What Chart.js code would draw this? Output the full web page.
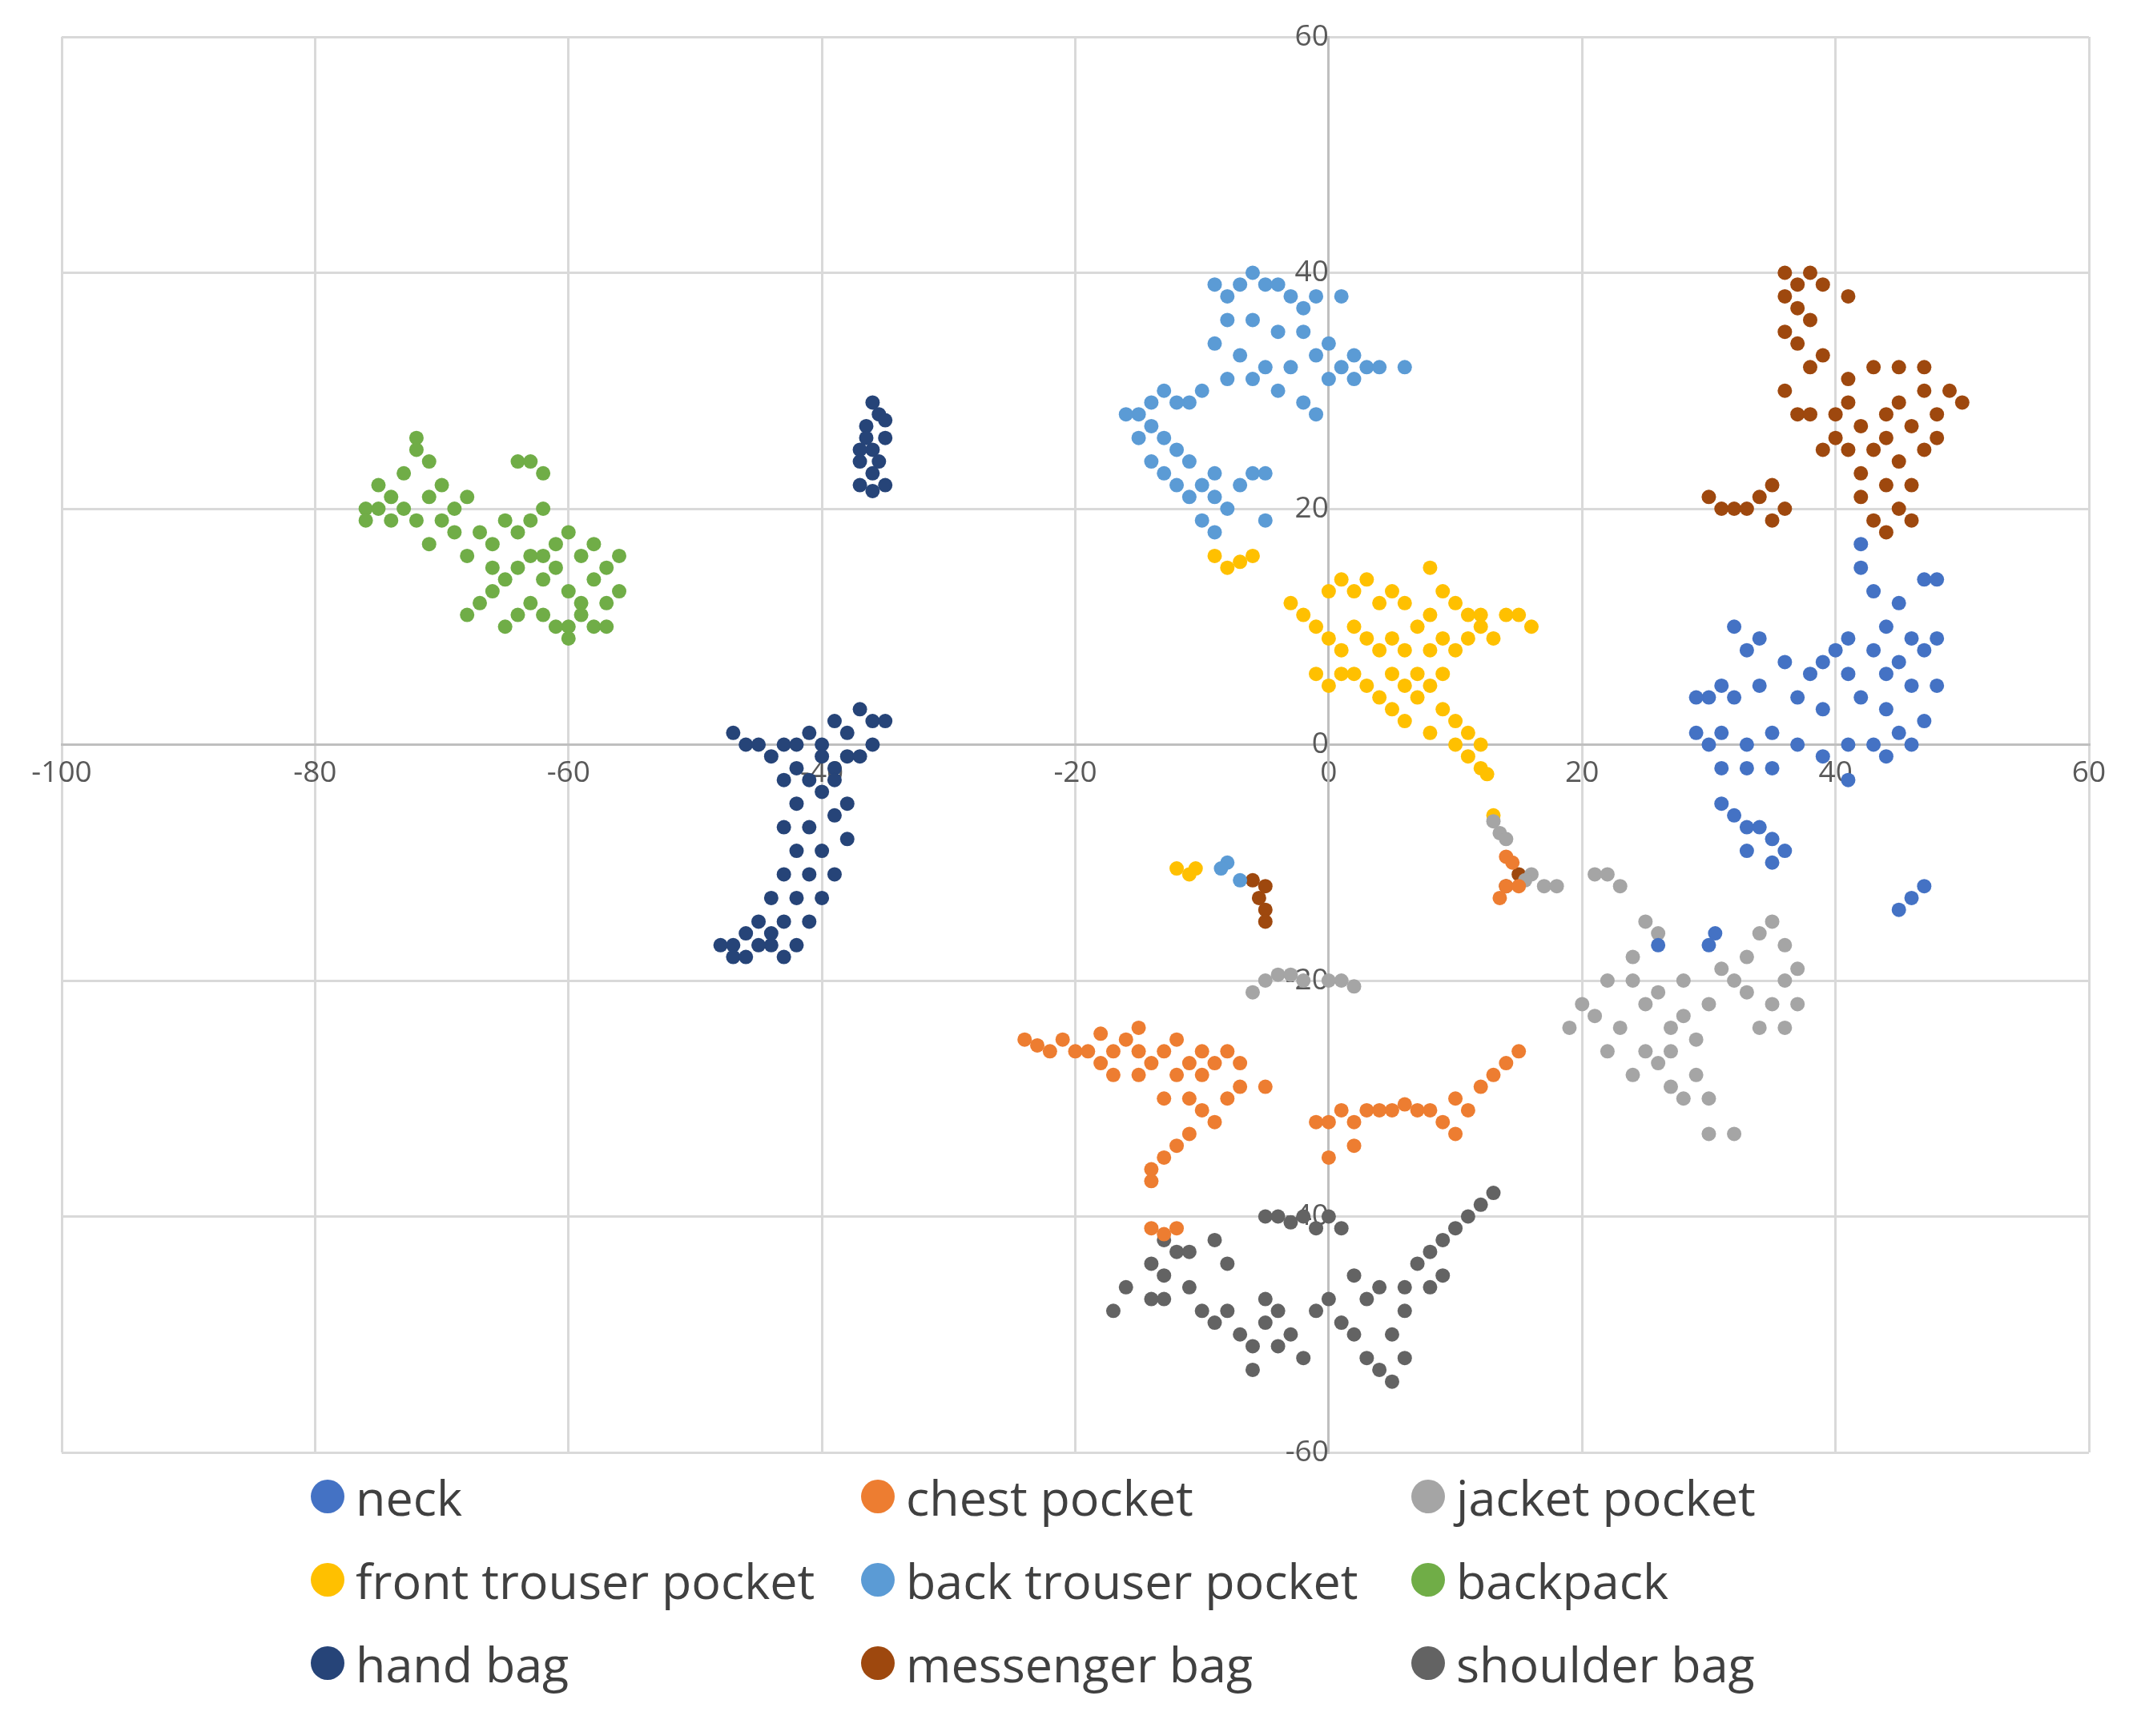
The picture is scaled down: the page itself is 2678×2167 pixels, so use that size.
<!DOCTYPE html>
<html>
<head>
<meta charset="utf-8">
<script src="https://cdn.jsdelivr.net/npm/chart.js@4"></script>
<style>
  body { margin: 0; background: #fff; font-family: "Open Sans", sans-serif; }
  #wrap { width: 2678px; height: 1860px; position: relative; }
  #legend { display: grid; grid-template-columns: 687px 687px 700px; margin-left: 388px; row-gap: 12px; margin-top: -38px; }
  .item { display: flex; align-items: center; font-size: 61px; color: #404040; white-space: nowrap; height: 92px; }
  .dot { width: 42px; height: 42px; border-radius: 50%; margin-right: 14px; }
</style>
</head>
<body>
<div id="wrap"><canvas id="tsne"></canvas></div>
<div id="legend"></div>
<script>
const names = ['neck', 'chest pocket', 'jacket pocket', 'front trouser pocket', 'back trouser pocket', 'backpack', 'hand bag', 'messenger bag', 'shoulder bag'];
const colors = ['#4472C4', '#ED7D31', '#A5A5A5', '#FFC000', '#5B9BD5', '#70AD47', '#264478', '#9E480E', '#636363'];
const xTicks = [-100, -80, -60, -40, -20, 0, 20, 40, 60];
const yTicks = [-60, -40, -20, 0, 20, 40, 60];

const neck = [[42,17],[42,15],[43,13],[45,12],[47,14],[48,14],[44,10],[46,9],[48,9],[41,9],[40,8],[43,8],[45,7],[47,8],[39,7],[41,6],[44,6],[46,5],[48,5],[38,6],[36,7],[34,9],[32,10],[33,8],[31,5],[30,4],[29,4],[32,4],[34,5],[37,4],[39,3],[42,4],[44,3],[45,1],[47,2],[29,1],[30,0],[31,1],[33,0],[35,1],[37,0],[39,-1],[41,0],[43,0],[44,-1],[46,0],[31,-2],[33,-2],[35,-2],[41,-3],[31,-5],[32,-6],[33,-7],[34,-7],[35,-8],[36,-9],[33,-9],[35,-10],[45,-14],[46,-13],[47,-12],[26,-17],[30,-17],[30.5,-16]];
const chestPocket = [[-24,-25],[-23,-25.5],[-22,-26],[-21,-25],[-20,-26],[-19,-26],[-18,-27],[-17,-26],[-16,-25],[-15,-26],[-14,-27],[-13,-26],[-12,-25],[-11,-27],[-10,-26],[-9,-27],[-8,-26],[-7,-27],[-17,-28],[-15,-28],[-12,-28],[-10,-28],[-18,-24.5],[-15,-24],[-13,-30],[-11,-30],[-10,-31],[-9,-32],[-11,-33],[-12,-34],[-13,-35],[-14,-36],[-14,-37],[-8,-30],[-7,-29],[-5,-29],[-14,-41],[-13,-41.5],[-12,-41],[-1,-32],[0,-32],[1,-31],[2,-32],[2,-34],[0,-35],[3,-31],[4,-31],[5,-31],[6,-30.5],[7,-31],[8,-31],[9,-32],[10,-30],[11,-31],[12,-29],[13,-28],[14,-27],[15,-26],[10,-33],[14,-9.5],[14.5,-10],[14,-12],[13.5,-13],[15,-12]];
const jacketPocket = [[13,-6.5],[13.5,-7.5],[14,-8],[16,-11],[17,-12],[18,-12],[15.5,-11.5],[-5,-20],[-4,-19.5],[-3,-19.5],[-2,-20],[0,-20],[1,-20],[2,-20.5],[-6,-21],[21,-11],[22,-11],[23,-12],[25,-15],[26,-16],[24,-18],[22,-20],[20,-22],[19,-24],[21,-23],[24,-20],[25,-22],[26,-21],[27,-24],[28,-20],[25,-26],[24,-28],[26,-27],[27,-29],[28,-30],[29,-28],[30,-30],[30,-33],[32,-33],[29,-25],[30,-22],[32,-20],[33,-18],[34,-16],[35,-15],[36,-17],[36,-20],[37,-22],[35,-22],[34,-24],[36,-24],[33,-21],[31,-19],[27,-26],[23,-24],[22,-26],[28,-23],[37,-19]];
const frontTrouser = [[-9,16],[-8,15],[-7,15.5],[-6,16],[-3,12],[-2,11],[-1,10],[0,13],[1,14],[2,13],[3,14],[4,12],[5,13],[6,12],[8,11],[8,15],[9,13],[10,12],[11,11],[12,11],[14,11],[15,11],[16,10],[0,9],[1,8],[2,10],[3,9],[4,8],[5,9],[6,8],[7,10],[8,8],[9,9],[10,8],[11,9],[12,10],[13,9],[-1,6],[0,5],[1,6],[2,6],[3,5],[5,6],[6,5],[7,4],[8,5],[9,3],[10,2],[11,1],[12,0],[11,-1],[12,-2],[10,0],[8,1],[6,2],[5,3],[13,-6],[12.5,-2.5],[-12,-10.5],[-11,-11],[-10.5,-10.5],[4,4],[7,6],[9,6]];
const backTrouser = [[-9,39],[-8,38],[-7,39],[-6,40],[-5,39],[-4,39],[-3,38],[-2,37],[-1,38],[1,38],[-8,36],[-6,36],[-4,35],[-2,35],[0,34],[-9,34],[-7,33],[-5,32],[-3,32],[-1,33],[1,32],[2,33],[3,32],[4,32],[6,32],[2,31],[0,31],[-2,29],[-1,28],[-4,30],[-6,31],[-8,31],[-10,30],[-11,29],[-12,29],[-13,30],[-14,29],[-15,28],[-16,28],[-14,27],[-13,26],[-15,26],[-12,25],[-13,23],[-14,24],[-12,22],[-11,21],[-10,22],[-9,21],[-10,19],[-9,18],[-8,20],[-7,22],[-6,23],[-5,23],[-5,19],[-11,24],[-9,23],[-8,-10],[-7,-11.5],[-8.5,-10.5]];
const backpack = [[-76,20],[-75,22],[-74,21],[-73,23],[-72,25],[-73,20],[-71,24],[-71,21],[-70,22],[-72,19],[-70,19],[-69,20],[-71,17],[-68,21],[-69,18],[-67,18],[-68,16],[-66,17],[-65,19],[-64,18],[-66,15],[-64,24],[-63,24],[-62,23],[-63,16],[-62,14],[-61,17],[-60,18],[-61,15],[-60,13],[-59,16],[-58,17],[-59,12],[-58,14],[-57,15],[-57,12],[-58,10],[-59,11],[-60,10],[-61,10],[-62,11],[-63,12],[-64,11],[-65,10],[-67,12],[-68,11],[-65,14],[-63,19],[-62,20],[-74,19],[-75,20],[-72,26],[-76,19],[-57,10],[-60,9],[-56,16],[-56,13],[-62,16],[-64,15],[-66,13]];
const handBag = [[-36,29],[-35.5,28],[-36.5,27],[-35,26],[-36,25],[-37,24],[-35.5,24],[-36,23],[-37,22],[-35,22],[-36.5,26],[-35,27.5],[-37,25],[-36,21.5],[-47,1],[-46,0],[-45,0],[-44,-1],[-43,0],[-42,0],[-41,1],[-40,0],[-39,2],[-38,1],[-37,3],[-36,2],[-35,2],[-38,-1],[-39,-2],[-41,-3],[-43,-3],[-40,-4],[-42,-5],[-39,-6],[-41,-7],[-43,-7],[-40,-9],[-42,-9],[-38,-8],[-39,-11],[-41,-11],[-43,-11],[-40,-13],[-42,-13],[-44,-13],[-41,-15],[-43,-15],[-45,-15],[-46,-16],[-47,-17],[-48,-17],[-47,-18],[-46,-18],[-44,-17],[-43,-18],[-42,-17],[-44,-16],[-45,-17],[-39,-3],[-37,-1],[-36,0],[-40,-1],[-38,-5],[-42,-2]];
const messengerBag = [[36,40],[37,39],[38,40],[39,39],[41,38],[36,38],[37,37],[38,36],[36,35],[37,34],[39,33],[38,32],[36,30],[37,28],[41,31],[43,32],[45,32],[47,32],[49,30],[50,29],[48,28],[46,27],[44,28],[42,27],[40,28],[38,28],[39,25],[41,25],[43,25],[45,24],[47,25],[48,26],[42,23],[44,22],[45,20],[43,19],[46,19],[44,18],[42,21],[46,22],[30,21],[31,20],[32,20],[33,20],[34,21],[35,22],[35,19],[36,20],[41,29],[45,29],[47,30],[-5,-12],[-5.5,-13],[-5,-14],[-5,-15],[-6,-11.5],[14,-12],[15,-11],[44,26],[40,26]];
const shoulderBag = [[-5,-40],[-4,-40],[-3,-40.5],[-2,-40],[-1,-41],[0,-40],[1,-41],[-13,-42],[-12,-43],[-13,-45],[-14,-44],[-13,-47],[-11,-46],[-10,-48],[-9,-49],[-8,-48],[-7,-50],[-6,-51],[-5,-49],[-4,-48],[-3,-50],[-2,-52],[-1,-48],[0,-47],[1,-49],[2,-50],[3,-52],[4,-53],[5,-54],[6,-52],[5,-50],[3,-47],[4,-46],[6,-46],[7,-44],[8,-43],[9,-42],[10,-41],[11,-40],[12,-39],[13,-38],[9,-45],[8,-46],[6,-48],[-17,-48],[-16,-46],[-11,-43],[-9,-42],[-8,-44],[-5,-47],[-4,-51],[-6,-53],[2,-45],[-14,-47]];

const series = [neck, chestPocket, jacketPocket, frontTrouser, backTrouser, backpack, handBag, messengerBag, shoulderBag];

const datasets = series.map((pts, i) => ({
    label: names[i],
    data: pts.map(p => ({ x: p[0], y: p[1] })),
    backgroundColor: colors[i],
    borderColor: colors[i],
    pointRadius: 9,
    pointHoverRadius: 9,
    borderWidth: 0
}));

new Chart(document.getElementById('tsne'), {
    type: 'scatter',
    data: { datasets },
    options: {
        responsive: true,
        maintainAspectRatio: false,
        animation: false,
        layout: { padding: { left: 77, right: 70, top: 46, bottom: 47 } },
        plugins: { legend: { display: false }, tooltip: { enabled: false } },
        scales: {
            x: {
                type: 'linear', position: { y: 0 }, min: -100, max: 60,
                afterBuildTicks: axis => { axis.ticks = xTicks.map(v => ({ value: v })); },
                grid: { color: '#d9d9d9', lineWidth: 3, drawTicks: false },
                border: { color: '#bfbfbf', width: 3 },
                ticks: { color: '#595959', font: { size: 37, family: 'Open Sans' }, padding: 14 }
            },
            y: {
                type: 'linear', position: { x: 0 }, min: -60, max: 60,
                afterBuildTicks: axis => { axis.ticks = yTicks.map(v => ({ value: v })); },
                grid: { color: '#d9d9d9', lineWidth: 3, drawTicks: false },
                border: { color: '#bfbfbf', width: 3 },
                ticks: { color: '#595959', font: { size: 37, family: 'Open Sans' }, padding: 4 }
            }
        }
    }
});

// legend in a 3x3 grid, like the original
const legend = document.getElementById('legend');
names.forEach((n, i) => {
    const d = document.createElement('div');
    d.className = 'item';
    d.innerHTML = `<span class="dot" style="background:${colors[i]}"></span>${n}`;
    legend.appendChild(d);
});
</script>
</body>
</html>
